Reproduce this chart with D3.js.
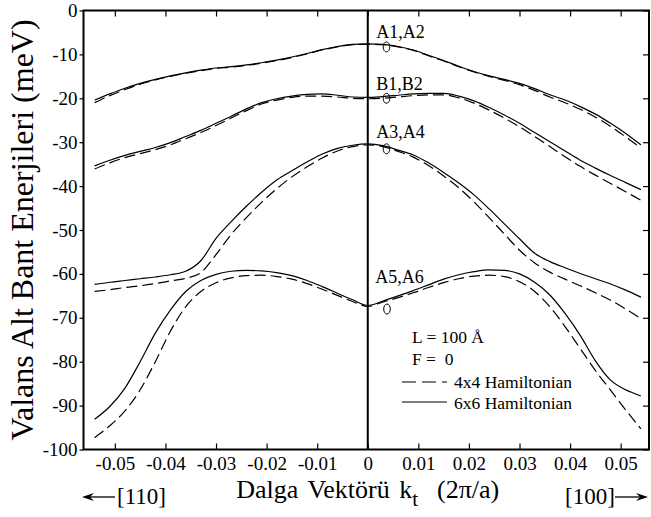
<!DOCTYPE html>
<meta charset="utf-8">
<style>

body {
  margin: 0;
  background: #fff;
}

text {
  font-family: "Liberation Serif", "Times New Roman", serif;
  fill: #000;
}

.tick text {
  font-size: 19px;
}

.band {
  fill: none;
  stroke: #000;
  stroke-width: 1.2;
}

.dash {
  stroke-dasharray: 11,5;
}

</style>
<body>
<script src="https://cdn.jsdelivr.net/npm/d3@7"></script>
<script>

// wave vector k_t (2pi/a), shared by every band
var kVals = [-0.054, -0.051, -0.048, -0.045, -0.042, -0.039, -0.036, -0.033, -0.030,
  -0.027, -0.024, -0.021, -0.018, -0.015, -0.012, -0.009, -0.006, -0.003, 0,
  0.003, 0.006, 0.009, 0.012, 0.015, 0.018, 0.021, 0.024, 0.027, 0.030,
  0.033, 0.036, 0.039, 0.042, 0.045, 0.048, 0.051, 0.054];

// subband energies (meV), 6x6 hamiltonian = solid, 4x4 = dashed
var a1Six = [-20.4, -19.0, -17.7, -16.6, -15.7, -14.9, -14.2, -13.6, -13.1,
  -12.8, -12.4, -11.9, -11.3, -10.6, -9.8, -8.9, -8.2, -7.7, -7.6,
  -7.7, -8.2, -9.0, -10.2, -11.4, -12.7, -13.9, -14.9, -15.7, -16.6,
  -17.8, -19.2, -20.4, -21.9, -23.6, -25.7, -28.0, -30.6];
var a1Four = [-21.0, -19.4, -18.0, -16.8, -15.8, -15.0, -14.3, -13.7, -13.2,
  -12.9, -12.5, -12.0, -11.4, -10.7, -9.9, -9.0, -8.3, -7.8, -7.7,
  -7.8, -8.3, -9.1, -10.3, -11.5, -12.8, -14.0, -15.0, -15.9, -16.9,
  -18.2, -19.7, -21.0, -22.5, -24.3, -26.4, -28.8, -31.3];

var b1Six = [-35.4, -34.1, -33.0, -32.1, -31.2, -30.1, -28.7, -27.3, -25.7,
  -24.1, -22.4, -21.0, -20.1, -19.5, -19.1, -19.0, -19.3, -19.7, -19.8,
  -19.6, -19.3, -19.0, -18.9, -18.9, -19.5, -20.6, -22.1, -23.8, -25.7,
  -27.8, -29.9, -32.0, -34.1, -35.9, -37.6, -39.2, -40.8];
var b1Four = [-36.1, -34.7, -33.5, -32.6, -31.7, -30.6, -29.2, -27.8, -26.2,
  -24.5, -22.8, -21.3, -20.4, -19.8, -19.5, -19.5, -19.7, -20.0, -20.1,
  -20.0, -19.7, -19.4, -19.2, -19.2, -19.9, -21.1, -22.7, -24.5, -26.5,
  -28.7, -31.0, -33.3, -35.5, -37.5, -39.4, -41.3, -43.2];

var a3Six = [-62.4, -61.9, -61.5, -61.1, -60.7, -60.2, -59.4, -57.0, -51.9,
  -48.1, -44.6, -41.4, -38.6, -36.5, -34.5, -32.7, -31.4, -30.7, -30.4,
  -30.8, -31.8, -32.9, -34.7, -36.9, -39.3, -42.0, -45.2, -48.6, -52.0,
  -55.3, -57.2, -58.6, -59.9, -61.1, -62.3, -63.7, -65.3];
var a3Four = [-64.0, -63.6, -63.1, -62.7, -62.2, -61.6, -61.0, -59.7, -55.6,
  -51.0, -47.2, -43.7, -40.6, -37.9, -35.6, -33.6, -32.0, -31.0, -30.6,
  -31.0, -32.1, -33.4, -35.3, -37.7, -40.4, -43.6, -47.2, -50.9, -54.6,
  -57.5, -59.6, -61.2, -62.7, -64.3, -66.0, -68.0, -70.2];

var a5Six = [-93.1, -90.2, -86.0, -80.0, -73.5, -68.2, -64.0, -61.5, -60.1,
  -59.4, -59.2, -59.3, -59.7, -60.4, -61.5, -62.9, -64.4, -65.9, -67.2,
  -66.2, -65.0, -63.8, -62.5, -61.2, -60.2, -59.5, -59.1, -59.2, -60.0,
  -61.9, -64.8, -69.0, -74.0, -79.8, -84.2, -86.4, -87.8];
var a5Four = [-97.3, -94.6, -91.2, -86.4, -80.0, -73.0, -67.5, -64.0, -62.0,
  -60.9, -60.4, -60.3, -60.6, -61.2, -62.2, -63.5, -64.9, -66.3, -67.4,
  -66.4, -65.4, -64.3, -63.1, -62.0, -61.1, -60.5, -60.3, -60.6, -61.8,
  -64.0, -67.5, -72.0, -77.0, -82.0, -86.5, -91.0, -95.3];

// subband labels and the little circles next to them
var bandNames = ["A1,A2", "B1,B2", "A3,A4", "A5,A6"];
var nameAt = [[0.0017, -6.3], [0.0017, -18.1], [0.0017, -29], [0.0015, -62]];
var markAt = [[0.0037, -8.3], [0.0037, -20], [0.0037, -31.5], [0.0038, -68]];

var xTicks = [-0.05, -0.04, -0.03, -0.02, -0.01, 0, 0.01, 0.02, 0.03, 0.04, 0.05];
var yTicks = [0, -10, -20, -30, -40, -50, -60, -70, -80, -90, -100];

var width = 651,
    height = 517;

var x = d3.scaleLinear().domain([-0.0562, 0.0556]).range([83.5, 649]);
var y = d3.scaleLinear().domain([-100, 0]).range([449.5, 10.5]);

var svg = d3.select("body").append("svg")
    .attr("width", width)
    .attr("height", height);

var fmtK = function(d) { return d === 0 ? "0" : d.toFixed(2); };
var fmtE = function(d) { return String(d); };

// axes: bottom/top/right ticks point inward, left ticks point out
svg.append("g")
    .attr("transform", "translate(0," + y(-100) + ")")
    .call(d3.axisBottom(x).tickValues(xTicks).tickSize(-6).tickPadding(7).tickFormat(fmtK));

svg.append("g")
    .attr("transform", "translate(0," + y(0) + ")")
    .call(d3.axisTop(x).tickValues(xTicks).tickSize(-6).tickFormat(""));

svg.append("g")
    .attr("transform", "translate(" + x.range()[0] + ",0)")
    .call(d3.axisLeft(y).tickValues(yTicks).tickSize(4).tickPadding(2).tickFormat(fmtE));

svg.append("g")
    .attr("transform", "translate(" + x.range()[1] + ",0)")
    .call(d3.axisRight(y).tickValues(yTicks).tickSize(-6).tickFormat(""));

svg.selectAll(".domain").remove();
svg.selectAll("g").attr("font-family", null);
svg.selectAll(".tick line").attr("stroke", "#000").attr("stroke-width", 1.2);

// plot frame
svg.append("rect")
    .attr("x", x.range()[0])
    .attr("y", y(0))
    .attr("width", x.range()[1] - x.range()[0])
    .attr("height", y(-100) - y(0))
    .attr("fill", "none")
    .attr("stroke", "#000")
    .attr("stroke-width", 2);

// k = 0 line
svg.append("line")
    .attr("x1", x(0)).attr("x2", x(0))
    .attr("y1", y(0)).attr("y2", y(-100))
    .attr("stroke", "#000")
    .attr("stroke-width", 2);

var line = d3.line()
    .x(function(d) { return x(d[0]); })
    .y(function(d) { return y(d[1]); })
    .curve(d3.curveMonotoneX);

var series = [
  { e: a1Six, dashed: false }, { e: a1Four, dashed: true },
  { e: b1Six, dashed: false }, { e: b1Four, dashed: true },
  { e: a3Six, dashed: false }, { e: a3Four, dashed: true },
  { e: a5Six, dashed: false }, { e: a5Four, dashed: true }
];

svg.selectAll("path.band")
    .data(series)
  .enter().append("path")
    .attr("class", function(d) { return d.dashed ? "band dash" : "band"; })
    .attr("d", function(d) { return line(d.e.map(function(v, i) { return [kVals[i], v]; })); });

// band names + circles
svg.selectAll("text.name")
    .data(bandNames)
  .enter().append("text")
    .attr("class", "name")
    .attr("x", function(d, i) { return x(nameAt[i][0]); })
    .attr("y", function(d, i) { return y(nameAt[i][1]); })
    .attr("font-size", 18)
    .text(function(d) { return d; });

svg.selectAll("ellipse")
    .data(markAt)
  .enter().append("ellipse")
    .attr("cx", function(d) { return x(d[0]); })
    .attr("cy", function(d) { return y(d[1]); })
    .attr("rx", 3.3)
    .attr("ry", 5)
    .attr("fill", "none")
    .attr("stroke", "#000")
    .attr("stroke-width", 1);

// legend
var leg = svg.append("g").attr("font-size", 17.5);
leg.append("text").attr("x", 412).attr("y", 343).text("L = 100 Å");
leg.append("text").attr("x", 412).attr("y", 365).attr("xml:space", "preserve").text("F =  0");
leg.append("line").attr("class", "band").attr("x1", 402).attr("x2", 447).attr("y1", 382).attr("y2", 382)
    .attr("stroke-dasharray", "14,6");
leg.append("text").attr("x", 454).attr("y", 388).text("4x4 Hamiltonian");
leg.append("line").attr("class", "band").attr("x1", 402).attr("x2", 447).attr("y1", 402).attr("y2", 402);
leg.append("text").attr("x", 454).attr("y", 409).text("6x6 Hamiltonian");

// axis titles
svg.append("text")
    .attr("transform", "translate(33," + ((y(0) + y(-100)) / 2) + ") rotate(-90)")
    .attr("text-anchor", "middle")
    .attr("font-size", 32)
    .text("Valans Alt Bant Enerjileri (meV)");

var xt = svg.append("text")
    .attr("x", x(0))
    .attr("y", 498)
    .attr("text-anchor", "middle")
    .attr("font-size", 26)
    .attr("word-spacing", 3)
    .attr("xml:space", "preserve");
xt.append("tspan").text("Dalga Vektörü k");
xt.append("tspan").attr("dy", 8).attr("font-size", 21).text("t");
xt.append("tspan").attr("dy", -8).text("  (2π/a)");

// direction arrows
function arrow(x1, x2, yy) {
  var dir = x2 > x1 ? 1 : -1;
  svg.append("line").attr("x1", x1).attr("x2", x2 - dir * 8).attr("y1", yy).attr("y2", yy)
      .attr("stroke", "#000").attr("stroke-width", 1.3);
  svg.append("path")
      .attr("d", "M" + x2 + "," + yy + "L" + (x2 - dir * 12) + "," + (yy - 4) +
        "L" + (x2 - dir * 8) + "," + yy + "L" + (x2 - dir * 12) + "," + (yy + 4) + "Z")
      .attr("fill", "#000");
}
arrow(115, 82, 497);
arrow(615, 648, 497);

svg.append("text").attr("x", 117).attr("y", 504).attr("font-size", 23).text("[110]");
svg.append("text").attr("x", 565).attr("y", 504).attr("font-size", 23).text("[100]");

</script>
